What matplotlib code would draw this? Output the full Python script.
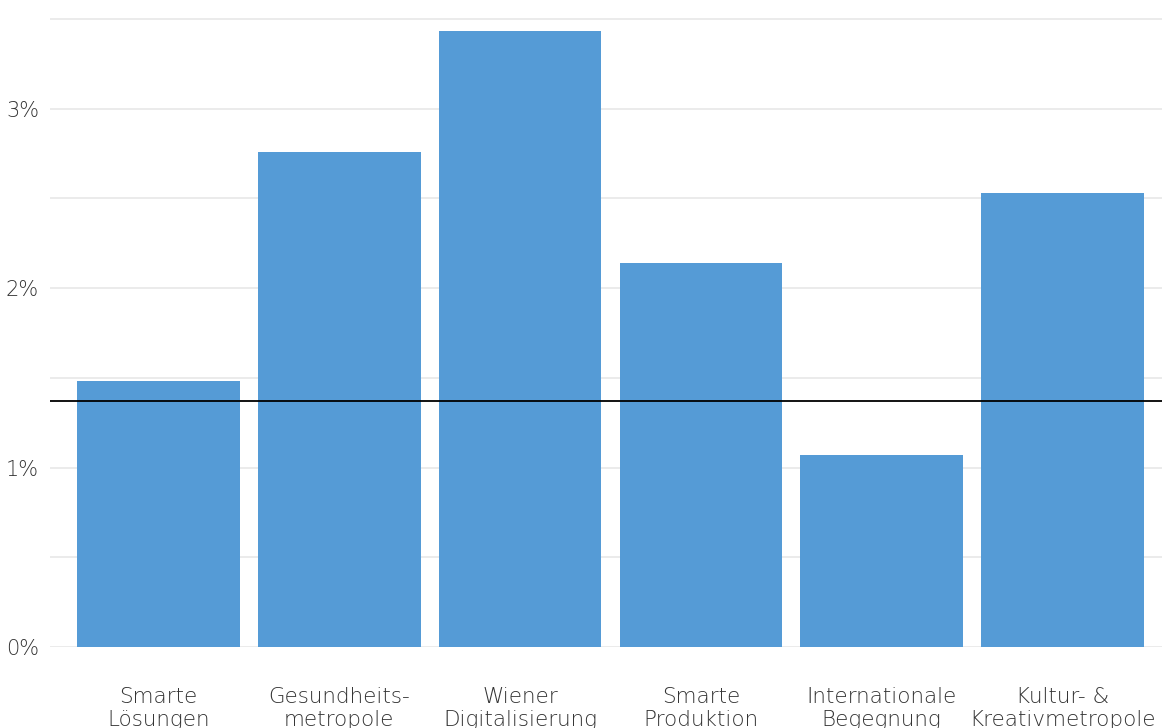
import matplotlib
matplotlib.use("Agg")
import matplotlib.pyplot as plt
from matplotlib.ticker import FuncFormatter, MultipleLocator

categories = ["Smarte\nLösungen", "Gesundheits-\nmetropole", "Wiener\nDigitalisierung",
              "Smarte\nProduktion", "Internationale\nBegegnung", "Kultur- &\nKreativmetropole"]
values = [1.48, 2.76, 3.43, 2.14, 1.07, 2.53]
reference_line = 1.37
yticks = [0, 1, 2, 3]

plt.rcParams['font.family'] = ['DejaVu Sans']

W, H = 1162, 728
fig = plt.figure(figsize=(W / 100, H / 100), dpi=100)
ax_left, ax_right = 50 / W, 1.0
ax_bottom, ax_top = 1 - 647 / H, 1 - 17 / H
ax = fig.add_axes([ax_left, ax_bottom, ax_right - ax_left, ax_top - ax_bottom])

x = list(range(len(categories)))
ax.bar(x, values, width=0.9, color="#559bd6", zorder=2)
ax.axhline(reference_line, color="black", linewidth=1.3, zorder=3)

ax.set_xlim(-0.6, 5.55)
ax.set_ylim(0, 3.51)
ax.set_yticks(yticks)
ax.yaxis.set_minor_locator(MultipleLocator(0.5))
ax.yaxis.set_major_formatter(FuncFormatter(lambda v, p: f"{v:.0f}%"))
ax.grid(axis="y", which="both", color="#e8e8e8", linewidth=1.2, zorder=0)
ax.set_axisbelow(True)

ax.set_xticks(x)
ax.set_xticklabels(categories, fontsize=15.5, color="#333333", linespacing=1.2,
                   fontweight="light")
ax.tick_params(axis="x", length=0, pad=29)
ax.tick_params(axis="y", which="both", length=0, pad=8)
for lbl in ax.get_yticklabels():
    lbl.set_fontsize(15)
    lbl.set_color("#333333")
    lbl.set_fontweight("light")
for s in ax.spines.values():
    s.set_visible(False)

fig.savefig("out.png", dpi=100)
